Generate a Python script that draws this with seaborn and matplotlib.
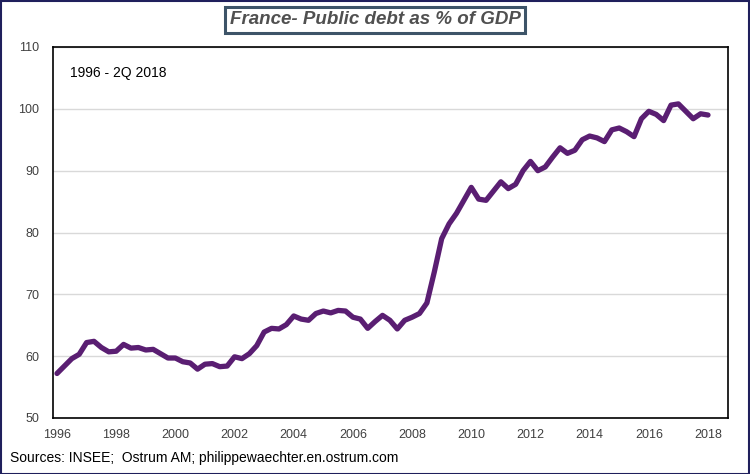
import matplotlib
matplotlib.use("Agg")
import matplotlib.pyplot as plt
import seaborn as sns
import pandas as pd
from matplotlib.patches import Rectangle

# Quarterly public debt, % of GDP, 1996Q1 - 2018Q2
start_year = 1996
debt = [
    57.2, 58.4, 59.6, 60.3,   # 1996
    62.2, 62.4, 61.4, 60.7,   # 1997
    60.8, 61.9, 61.3, 61.4,   # 1998
    61.0, 61.1, 60.4, 59.7,   # 1999
    59.7, 59.1, 58.9, 57.9,   # 2000
    58.7, 58.8, 58.3, 58.4,   # 2001
    59.9, 59.6, 60.4, 61.7,   # 2002
    63.9, 64.5, 64.4, 65.1,   # 2003
    66.5, 66.0, 65.8, 66.9,   # 2004
    67.3, 67.0, 67.4, 67.3,   # 2005
    66.3, 66.0, 64.5, 65.6,   # 2006
    66.6, 65.8, 64.4, 65.8,   # 2007
    66.3, 66.9, 68.6, 73.6,   # 2008 (last = 2009Q1)
]
debt += [
    79.0, 81.4, 83.1, 85.2,   # 2009Q2 - 2010Q1
    87.3, 85.4, 85.2, 86.7,   # 2010Q2 - 2011Q1
    88.2, 87.1, 87.8, 90.0,   # 2011Q2 - 2012Q1
    91.5, 90.0, 90.6, 92.2,   # 2012Q2 - 2013Q1
    93.7, 92.8, 93.3, 95.0,   # 2013Q2 - 2014Q1
    95.6, 95.3, 94.7, 96.6,   # 2014Q2 - 2015Q1
    96.9, 96.3, 95.5, 98.4,   # 2015Q2 - 2016Q1
    99.6, 99.1, 98.1, 100.6,  # 2016Q2 - 2017Q1
    100.8, 99.6, 98.4, 99.2,  # 2017Q2 - 2018Q1
    99.0,                     # 2018Q2
]
dates = [start_year + i / 4 for i in range(len(debt))]
x_ticks = list(range(1996, 2019, 2))
y_ticks = [50, 60, 70, 80, 90, 100, 110]

title = "France- Public debt as % of GDP"
period_note = "1996 - 2Q 2018"
source_note = "Sources: INSEE;  Ostrum AM; philippewaechter.en.ostrum.com"

df = pd.DataFrame({"date": dates, "debt": debt})

sns.set_theme(style="white")
plt.rcParams["font.family"] = ["Liberation Sans", "DejaVu Sans"]

fig = plt.figure(figsize=(7.5, 4.74), dpi=100)
ax = fig.add_axes([53 / 750, 1 - 418 / 474, 675 / 750, 371 / 474])

sns.lineplot(data=df, x="date", y="debt", ax=ax, color="#5a1e72",
             linewidth=3.8, solid_capstyle="round", solid_joinstyle="round")

ax.set_xlim(1996 - 4 / 29.59, 2018 + 20 / 29.59)
ax.set_ylim(50, 110)
ax.set_xticks(x_ticks)
ax.set_xticklabels([str(t) for t in x_ticks])
ax.set_yticks(y_ticks)
ax.set_yticklabels([str(t) for t in y_ticks])
ax.tick_params(axis="both", length=0, labelsize=9, colors="#404040")
ax.tick_params(axis="x", pad=8)
ax.tick_params(axis="y", pad=10)
ax.yaxis.grid(True, color="#d9d9d9", linewidth=1)
ax.xaxis.grid(False)
ax.set_axisbelow(True)
for s in ax.spines.values():
    s.set_visible(True)
    s.set_color("black")
    s.set_linewidth(1.2)
ax.set_xlabel("")
ax.set_ylabel("")

fig.text(70 / 750, 1 - 73 / 474, period_note, fontsize=10, color="black",
         va="center", ha="left")
fig.text(10 / 750, 1 - 458 / 474, source_note, fontsize=10, color="black",
         va="center", ha="left")

fig.text(375 / 750, 1 - 20 / 474, title, fontsize=13.5, fontweight="bold",
         fontstyle="italic", color="#505050", ha="center", va="center",
         bbox=dict(boxstyle="square,pad=0.25", facecolor="white",
                   edgecolor="#3d5468", linewidth=2.2))

fig.patches.append(Rectangle((0.001, 0.001), 0.998, 0.997, transform=fig.transFigure,
                             fill=False, edgecolor="#1f1f5c", linewidth=1.5))

fig.savefig("out.png", dpi=100)
